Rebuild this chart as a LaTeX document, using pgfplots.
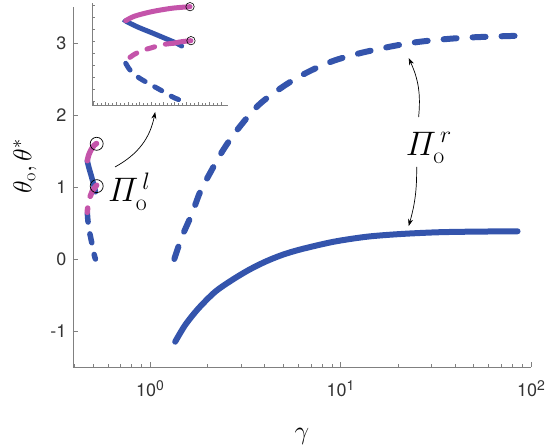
\RequirePackage{fix-cm}
\documentclass[border=0pt]{standalone}
\usepackage{amsmath}
\usepackage{fontspec}
\newfontfamily\hel{TeX Gyre Heros}
\usepackage{pgfplots}
\pgfplotsset{compat=1.18}
\usetikzlibrary{arrows.meta}
\definecolor{cblue}{RGB}{52,84,172}
\definecolor{cmag}{RGB}{196,84,170}
\definecolor{axg}{RGB}{128,128,128}
\definecolor{tl}{RGB}{51,51,51}
\newcommand{\tp}[1]{10\raisebox{6pt}{\fontsize{14}{14}\selectfont #1}}

\pgfplotstableread{
g t
0.468 1.365
0.4689 1.348
0.4788 1.253
0.4903 1.160
0.5017 1.065
0.5118 0.980
0.5160 0.933
}\bluesolid
\pgfplotstableread{
g t
0.468 0.638
0.4717 0.524
0.4788 0.399
0.4874 0.297
0.4989 0.171
0.5088 0.058
0.5160 0.0
}\bluedash
\pgfplotstableread{
g t
0.5232 1.604
0.5075 1.577
0.4903 1.519
0.4760 1.445
0.4689 1.377
0.468 1.365
}\magsolid
\pgfplotstableread{
g t
0.5240 1.024
0.5160 1.007
0.5088 0.980
}\magsolidb
\pgfplotstableread{
g t
0.5088 0.980
0.4994 0.956
0.4903 0.904
0.4817 0.853
0.4745 0.780
0.4697 0.706
0.468 0.648
}\magdash
\pgfplotstableread{
g t
0.5240 1.600
0.5240 1.012
}\circs

\begin{document}
\begin{tikzpicture}
\begin{axis}[name=main, scale only axis, width=458pt, height=360pt,
  xmode=log, xmin=0.3936, xmax=100, ymin=-1.5, ymax=3.5,
  axis lines=left, axis line style={axg, line width=0.8pt, -},
  xtick={1,10,100}, xticklabels={\tp{0},\tp{1},\tp{2}},
  minor xtick={0.4,0.5,0.6,0.7,0.8,0.9,2,3,4,5,6,7,8,9,20,30,40,50,60,70,80,90},
  ytick={-1,0,1,2,3}, yticklabels={-1,0,1,2,3},
  tick align=inside, major tick length=5pt, minor tick length=3pt,
  tick style={axg, line width=0.6pt},
  ticklabel style={font=\hel\fontsize{18}{18}\selectfont, text=tl},
  xticklabel style={yshift=-10pt},
  yticklabel style={xshift=-3pt},
  xlabel={$\gamma$}, ylabel={$\theta_{\mathrm{o}},\theta^{*}$},
  label style={font=\fontsize{26}{26}\selectfont},
  xlabel style={at={(axis description cs:0.5,-0.194)}, anchor=center},
  ylabel style={at={(axis description cs:-0.105,0.558)}, anchor=center},
  clip=false]
% right branch
\addplot[cblue, line width=6pt, line cap=round, smooth] coordinates {
(1.354,-1.149)(1.528,-0.917)(1.796,-0.685)(2.198,-0.454)(2.692,-0.292)(3.292,-0.153)(4.03,-0.037)(4.93,0.056)(6.2,0.135)(9.22,0.24)(13.8,0.31)(20.7,0.347)(32.3,0.371)(50,0.38)(85,0.385)};
\addplot[cblue, line width=6pt, line cap=round, dash pattern=on 13pt off 16pt, smooth] coordinates {
(1.34,0.0)(1.47,0.31)(1.66,0.63)(1.83,0.93)(2.11,1.24)(2.40,1.50)(2.86,1.79)(3.79,2.16)(5.68,2.49)(8.51,2.72)(12.7,2.86)(23.3,3.0)(42.7,3.07)(85,3.10)};
% left branch
\addplot[cblue, line width=5.5pt, line cap=round, smooth] table[x=g,y=t] {\bluesolid};
\addplot[cblue, line width=5.5pt, line cap=round, dash pattern=on 9pt off 12pt, smooth] table[x=g,y=t] {\bluedash};
\addplot[cmag, line width=5.5pt, line cap=round, smooth] table[x=g,y=t] {\magsolid};
\addplot[cmag, line width=5.5pt, line cap=round, smooth] table[x=g,y=t] {\magsolidb};
\addplot[cmag, line width=5.5pt, line cap=round, dash pattern=on 9pt off 12pt, smooth] table[x=g,y=t] {\magdash};
\addplot[only marks, mark=o, mark size=6.5pt, mark options={black, line width=0.7pt}] table[x=g,y=t] {\circs};
% labels and arrows
\node[anchor=base west, inner sep=0, font=\fontsize{34}{34}\selectfont] at (axis cs:0.601,0.792) {$\varPi_{\mathrm{o}}^{\,l}$};
\node[anchor=base west, inner sep=0, font=\fontsize{34}{34}\selectfont] at (axis cs:21.98,1.444) {$\varPi_{\mathrm{o}}^{\,r}$};
\draw[-{Stealth[length=7pt,width=5pt]}, line width=0.7pt] (axis cs:0.654,1.278) to[bend right=25] (axis cs:1.063,2.042);
\draw[-{Stealth[length=7pt,width=5pt]}, line width=0.7pt] (axis cs:25.7,1.972) to[bend right=15] (axis cs:22.8,2.79);
\draw[-{Stealth[length=7pt,width=5pt]}, line width=0.7pt] (axis cs:25.1,1.278) to[bend left=8] (axis cs:22.8,0.458);
\end{axis}
% inset
\begin{axis}[at={(main.south west)}, anchor=south west, xshift=19.3pt, yshift=262pt,
  scale only axis, width=135.7pt, height=102pt,
  xmin=0.4393, xmax=0.5558, ymin=-0.073, ymax=1.667,
  axis lines=left, axis line style={axg, line width=0.6pt, -},
  xtick={0.44,0.45,0.46,0.47,0.48,0.49,0.50,0.51,0.52,0.53,0.54,0.55}, minor x tick num=2,
  ytick={-0.017,0.189,0.395,0.601,0.807,1.013,1.219,1.425,1.631},
  xticklabels={}, yticklabels={},
  tick align=inside, major tick length=2.5pt, minor tick length=1.5pt,
  tick style={axg, line width=0.5pt},
  clip=false]
\addplot[cblue, line width=5pt, line cap=round, smooth] table[x=g,y=t] {\bluesolid};
\addplot[cblue, line width=5pt, line cap=round, dash pattern=on 8pt off 11pt, smooth] table[x=g,y=t] {\bluedash};
\addplot[cmag, line width=5pt, line cap=round, smooth] table[x=g,y=t] {\magsolid};
\addplot[cmag, line width=5pt, line cap=round, smooth] table[x=g,y=t] {\magsolidb};
\addplot[cmag, line width=5pt, line cap=round, dash pattern=on 8pt off 11pt, smooth] table[x=g,y=t] {\magdash};
\addplot[only marks, mark=o, mark size=4.2pt, mark options={black, line width=0.6pt}] coordinates {(0.5232,1.604)(0.5240,1.024)};
\end{axis}
\pgfresetboundingbox
\path[use as bounding box] ([xshift=-73pt,yshift=-81pt]main.south west) rectangle ([xshift=17pt,yshift=7pt]main.north east);
\end{tikzpicture}
\end{document}
